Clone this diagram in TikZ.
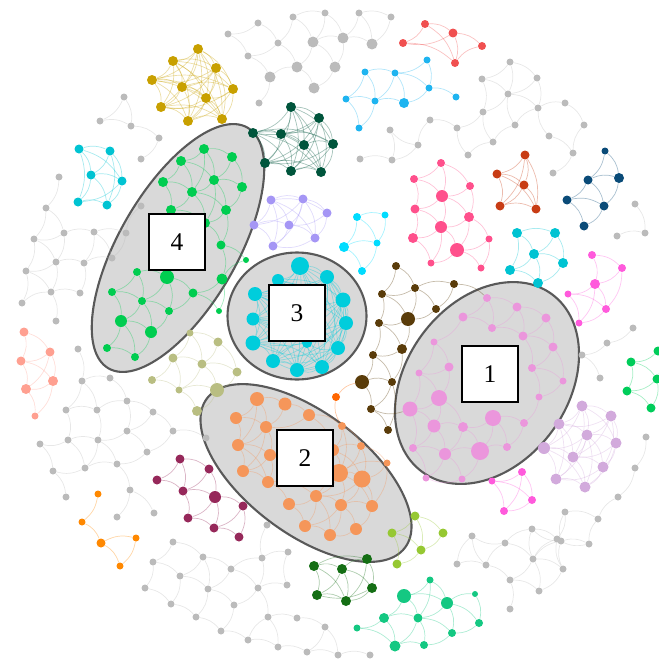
\documentclass[tikz,border=0pt]{standalone}
\usepackage{fontspec}
\setmainfont{Liberation Serif}

\definecolor{gold}{HTML}{C8A000}
\definecolor{pine}{HTML}{00553C}
\definecolor{sky}{HTML}{1EB4F0}
\definecolor{coral}{HTML}{F05050}
\definecolor{leaf}{HTML}{00CD50}
\definecolor{aqua}{HTML}{00CDDC}
\definecolor{lavend}{HTML}{A596F5}
\definecolor{ice}{HTML}{00DCFF}
\definecolor{turq}{HTML}{00C3D2}
\definecolor{rose}{HTML}{FF508C}
\definecolor{rust}{HTML}{C83C14}
\definecolor{navy}{HTML}{0A4B78}
\definecolor{fuchsia}{HTML}{FF5ADC}
\definecolor{orchid}{HTML}{EB96DC}
\definecolor{lilac}{HTML}{D2AADC}
\definecolor{mint}{HTML}{00CD5A}
\definecolor{umber}{HTML}{5A3C0A}
\definecolor{olive}{HTML}{B9BE82}
\definecolor{salmon}{HTML}{FFA091}
\definecolor{amber}{HTML}{FF8800}
\definecolor{flame}{HTML}{FF6600}
\definecolor{maroon}{HTML}{96285A}
\definecolor{peach}{HTML}{F5965A}
\definecolor{lime}{HTML}{96C832}
\definecolor{forest}{HTML}{146E14}
\definecolor{jade}{HTML}{14C882}
\definecolor{ash}{HTML}{BBBBBB}

\pgfdeclarelayer{shells}
\pgfdeclarelayer{links}
\pgfsetlayers{shells,links,main}

\tikzset{
  dot/.style={circle, fill=#1, inner sep=0pt},
  link/.style={draw=#1, opacity=0.35, line width=0.4pt},
  shell/.style={fill=gray!30, draw=black!65, line width=1.2pt},
  tag/.style={draw=black, fill=white, line width=1.6pt, minimum size=1.12cm,
    inner sep=0pt, font=\fontsize{14.5}{17}\selectfont}
}

% #1 name prefix, #2 list i/x/y/r, #3 colour, #4 link distance
\newcommand\cluster[4]{%
  \foreach \i/\ax/\ay/\rad in #2
    \node[dot=#3, minimum size=\rad*0.4mm] (#1\i) at (\ax,\ay) {};
  \begin{pgfonlayer}{links}
  \foreach \i/\ax/\ay/\rad in #2 {
    \foreach \j/\bx/\by/\rbd in #2 {
      \ifnum\i<\j\relax
        \pgfmathtruncatemacro\near{veclen(\bx-\ax,\by-\ay)<#4}
        \ifnum\near=1 \draw[link=#3] (#1\i) to[bend left=20] (#1\j);\fi
      \fi}}
  \end{pgfonlayer}}

\def\goldpts{1/198/49/5, 2/173/61/5, 3/216/68/5, 4/152/80/5, 5/182/87/5, 6/233/89/5, 7/206/98/5, 8/161/107/5, 9/188/121/5, 10/222/119/5}
\def\pinepts{1/291/107/5, 2/319/118/5, 3/253/133/5, 4/281/134/5, 5/304/145/5, 6/333/144/5, 7/265/163/5, 8/291/171/5, 9/321/172/5}
\def\skypts{1/427/60/3.5, 2/365/72/3.5, 3/395/73/3.5, 4/429/88/3.5, 5/456/97/3.5, 6/346/99/3.5, 7/375/101/3.5, 8/404/103/5, 9/359/128/3.5}
\def\coralpts{1/425/24/4, 2/453/33/4.5, 3/403/43/4, 4/455/63/4, 5/482/46/4}
\def\leafpts{1/204/149/5, 2/232/157/5, 3/181/161/5, 4/163/182/5, 5/214/180/5, 6/242/187/5, 7/192/192/5, 8/226/210/5, 9/171/210/5, 10/205/223/5, 11/221/245/4.5, 12/137/272/4, 13/167/277/7, 14/222/279/5.5, 15/193/293/4.5, 16/112/292/4, 17/142/301/4, 18/169/311/4, 19/121/321/6, 20/151/332/6, 21/107/348/4, 22/135/357/4, 23/246/260/3, 24/219/311/3}
\def\aquapts{1/300/266/9, 2/327/277/7, 3/278/280/6, 4/343/300/7.5, 5/255/294/7, 6/346/323/7, 7/253/319/6.5, 8/338/348/7, 9/253/343/7.5, 10/322/367/7, 11/273/361/7, 12/297/370/7, 13/307/343/5}
\def\lavendpts{1/271/200/4.5, 2/303/199/4.5, 3/327/213/4.5, 4/254/225/4.5, 5/289/225/4.5, 6/315/238/4.5, 7/273/246/4.5}
\def\icepts{1/357/217/4, 2/385/215/3.5, 3/344/247/5, 4/377/243/3.5, 5/362/271/4}
\def\turqpts{1/79/149/4.5, 2/110/151/4.5, 3/91/175/4.5, 4/122/181/4.5, 5/78/202/4.5, 6/107/205/4.5}
\def\rosepts{1/441/163/4, 2/414/179/4, 3/470/186/4, 4/442/196/6, 5/415/209/4.5, 6/469/217/5, 7/441/227/6, 8/413/238/5, 9/489/239/3.5, 10/457/250/7, 11/431/263/3.5, 12/481/268/3.5}
\def\rustpts{1/525/155/4.5, 2/497/174/4.5, 3/524/185/4.5, 4/500/206/4.5, 5/536/209/4.5}
\def\navypts{1/605/151/3.5, 2/588/180/4.5, 3/619/178/5, 4/567/200/4.5, 5/604/206/4.5, 6/584/226/4.5}
\def\turqbpts{1/517/233/5, 2/555/233/5, 3/534/254/5, 4/563/263/5, 5/510/270/5, 6/538/283/5}
\def\fuchsiapts{1/592/255/4, 2/622/268/4, 3/595/284/5, 4/568/294/3.5, 5/606/309/4, 6/579/323/3.5}
\def\fuchsiabpts{1/522/472/4, 2/492/481/3.5, 3/532/500/4, 4/504/511/4}
\def\orchidpts{1/487/298/4, 2/517/307/4.5, 3/463/317/4.5, 4/546/318/4.5, 5/492/328/4, 6/523/336/4.5, 7/553/347/4.5, 8/434/342/3.5, 9/449/367/4.5, 10/532/368/4, 11/419/373/3.5, 12/563/381/3.5, 13/539/397/3.5, 14/439/398/8, 15/410/409/7.5, 16/493/418/8, 17/434/426/6.5, 18/463/427/5, 19/524/423/4, 20/413/448/4, 21/445/454/6, 22/480/451/9, 23/507/447/4, 24/462/479/3.5, 25/426/478/3.5}
\def\lilacpts{1/582/406/5.5, 2/611/416/5.5, 3/559/424/5.5, 4/587/435/5.5, 5/616/443/5.5, 6/544/448/6, 7/573/457/5.5, 8/603/467/5.5, 9/556/479/5.5, 10/585/487/5.5}
\def\mintpts{1/658/351/4.5, 2/631/362/4.5, 3/657/379/4.5, 4/627/391/4.5, 5/651/408/4.5}
\def\umberpts{1/396/266/4, 2/415/288/4, 3/382/294/4, 4/454/284/4, 5/436/309/4, 6/408/319/7, 7/379/323/4, 8/402/349/5, 9/373/355/4, 10/362/382/7, 11/392/382/4, 12/371/409/4, 13/388/430/4}
\def\olivepts{1/190/333/3.5, 2/218/342/4.5, 3/173/358/4.5, 4/202/364/4.5, 5/237/372/4.5, 6/152/380/4, 7/179/390/3.5, 8/217/390/7, 9/197/411/5}
\def\salmonpts{1/24/332/4.5, 2/50/352/4.5, 3/21/361/4.5, 4/53/381/5, 5/26/389/5, 6/35/416/3.5}
\def\amberpts{1/98/494/3.5, 2/82/522/3.5, 3/101/543/4.5, 4/136/538/3.5, 5/120/566/3.5}
\def\maroonpts{1/180/459/4.5, 2/209/469/4.5, 3/157/480/4.5, 4/183/491/4.5, 5/215/497/6, 6/243/506/4.5, 7/188/518/4.5, 8/214/528/4.5, 9/239/537/4.5}
\def\peachpts{1/257/399/7, 2/285/404/6.5, 3/236/418/6, 4/309/415/6, 5/266/427/6, 6/342/426/4, 7/238/445/6, 8/270/455/6, 9/333/450/6, 10/361/446/4, 11/243/471/6, 12/268/482/6, 13/339/473/9, 14/387/463/3.5, 15/362/479/8.5, 16/316/496/6, 17/289/504/6, 18/341/505/6, 19/372/506/6, 20/305/526/6, 21/356/529/6, 22/330/535/6}
\def\limepts{1/415/516/4.5, 2/392/533/4.5, 3/443/533/4.5, 4/421/550/4.5, 5/397/564/4.5}
\def\forestpts{1/314/566/5, 2/342/569/5, 3/367/559/5, 4/372/588/5, 5/317/595/5, 6/346/601/5}
\def\jadepts{1/430/580/3.5, 2/404/596/7, 3/447/603/6, 4/475/594/3, 5/384/618/5, 6/418/618/4.5, 7/357/628/3.5, 8/479/623/4, 9/452/633/4, 10/395/646/5.5, 11/424/645/4}
\def\ashpts{1/293/17/3.5, 2/325/13/3.5, 3/359/13/3.5, 4/391/17/3.5, 5/258/23/3.5, 6/228/34/3.5, 7/278/43/3.5, 8/248/56/3.5, 9/313/42/5.5, 10/343/38/5.5, 11/372/44/5.5, 12/335/67/5.5, 13/270/77/5.5, 14/297/67/5.5, 15/314/88/5.5, 16/259/103/3.5,
17/124/97/3.5, 18/100/121/3.5, 19/131/126/3.5, 20/159/138/3.5, 21/141/159/3.5, 22/59/177/3.5, 23/46/208/3.5, 24/64/233/3.5, 25/34/239/3.5, 26/56/262/3.5, 27/94/232/3.5, 28/84/263/3.5, 29/126/233/3.5, 30/112/258/3.5, 31/26/271/3.5, 32/22/303/3.5, 33/51/292/3.5, 34/80/293/3.5, 35/141/206/3.5,
36/56/321/3.5, 37/78/349/3.5, 38/82/381/3.5, 39/66/410/3.5, 40/110/378/3.5, 41/97/410/3.5, 42/127/401/3.5, 43/153/412/3.5, 44/173/431/3.5, 45/206/438/3.5, 46/127/431/3.5, 47/147/452/3.5, 48/68/440/3.5, 49/40/444/3.5, 50/98/440/3.5, 51/85/468/3.5, 52/117/464/3.5, 53/53/471/3.5, 54/66/497/3.5, 55/130/490/3.5, 56/117/517/3.5, 57/154/513/3.5, 58/173/542/3.5, 59/203/557/3.5, 60/153/562/3.5, 61/180/576/3.5, 62/231/569/3.5,
63/145/588/3.5, 64/262/558/3.5, 65/258/588/3.5, 66/287/585/3.5, 67/208/589/3.5, 68/234/605/3.5, 69/171/604/3.5, 70/196/617/3.5, 71/221/631/3.5, 72/248/640/3.5, 73/268/617/3.5, 74/297/618/3.5, 75/325/627/3.5, 76/278/647/3.5, 77/307/652/3.5, 78/338/655/3.5, 79/370/655/3.5, 80/288/552/3.5, 81/267/525/3.5,
82/457/564/3.5, 83/486/565/3.5, 84/505/543/3.5, 85/533/559/3.5, 86/563/569/3.5, 87/561/541/3.5, 88/589/544/3.5, 89/510/580/3.5, 90/539/591/3.5, 91/510/609/3.5, 92/472/536/3.5, 93/532/529/3.5, 94/565/512/3.5, 95/598/519/3.5, 96/557/539/3.5,
97/633/328/3.5, 98/607/343/3.5, 99/582/355/3.5, 100/600/378/3.5, 101/646/437/3.5, 102/635/468/3.5, 103/618/497/3.5, 104/635/204/3.5, 105/617/236/3.5, 106/645/233/3.5,
107/418/145/3.5, 108/468/155/3.5, 109/493/142/3.5, 110/515/125/3.5, 111/549/136/3.5, 112/573/153/3.5, 113/553/173/3.5, 114/510/62/3.5, 115/537/78/3.5, 116/482/79/3.5, 117/508/94/3.5, 118/483/112/3.5, 119/538/108/3.5, 120/565/103/3.5, 121/584/125/3.5, 122/360/159/3.5, 123/390/130/3.5, 124/392/160/3.5, 125/430/120/3.5, 126/457/128/3.5}

\begin{document}
\begin{tikzpicture}[x=0.02cm, y=-0.02cm]
\useasboundingbox (0,0) rectangle (659,659);

% grey backdrop of the four groups
\begin{pgfonlayer}{shells}
\draw[shell, rotate around={54:(487,383)}] (487,383) ellipse [x radius=2.2cm, y radius=1.62cm];
\draw[shell, rotate around={-37:(306,473)}] (306,473) ellipse [x radius=2.48cm, y radius=1.21cm];
\draw[shell] (297,316) ellipse [x radius=1.39cm, y radius=1.27cm];
\draw[shell, rotate around={60:(178,248)}] (178,248) ellipse [x radius=2.78cm, y radius=1.18cm];
\end{pgfonlayer}

\cluster{gy}{\ashpts}{ash}{34}
\cluster{au}{\goldpts}{gold}{90}
\cluster{pn}{\pinepts}{pine}{90}
\cluster{sk}{\skypts}{sky}{40}
\cluster{co}{\coralpts}{coral}{60}
\cluster{lf}{\leafpts}{leaf}{45}
\cluster{aq}{\aquapts}{aqua}{110}
\cluster{lv}{\lavendpts}{lavend}{60}
\cluster{ic}{\icepts}{ice}{45}
\cluster{tq}{\turqpts}{turq}{60}
\cluster{ro}{\rosepts}{rose}{45}
\cluster{ru}{\rustpts}{rust}{60}
\cluster{nv}{\navypts}{navy}{45}
\cluster{tb}{\turqbpts}{turq}{50}
\cluster{fu}{\fuchsiapts}{fuchsia}{45}
\cluster{fb}{\fuchsiabpts}{fuchsia}{45}
\cluster{or}{\orchidpts}{orchid}{45}
\cluster{li}{\lilacpts}{lilac}{60}
\cluster{mi}{\mintpts}{mint}{45}
\cluster{um}{\umberpts}{umber}{50}
\cluster{ol}{\olivepts}{olive}{45}
\cluster{sa}{\salmonpts}{salmon}{45}
\cluster{am}{\amberpts}{amber}{40}
\cluster{ma}{\maroonpts}{maroon}{45}
\cluster{pe}{\peachpts}{peach}{50}
\cluster{lm}{\limepts}{lime}{45}
\cluster{fo}{\forestpts}{forest}{60}
\cluster{ja}{\jadepts}{jade}{45}

\node[dot=flame, minimum size=1.6mm] (fl1) at (336,397) {};
\begin{pgfonlayer}{links}
\draw[link=flame] (fl1) to[bend left=20] (um10);
\draw[link=flame] (fl1) to[bend right=20] (pe6);
\draw[link=umber] (um4) to[bend left=20] (or1);
\draw[link=umber] (um12) to[bend right=20] (or15);
\end{pgfonlayer}

\node[tag] (box4) at (177,242) {4};
\node[tag] (box3) at (297,313) {3};
\node[tag] (box1) at (490,374) {1};
\node[tag] (box2) at (305,458) {2};
\end{tikzpicture}
\end{document}
